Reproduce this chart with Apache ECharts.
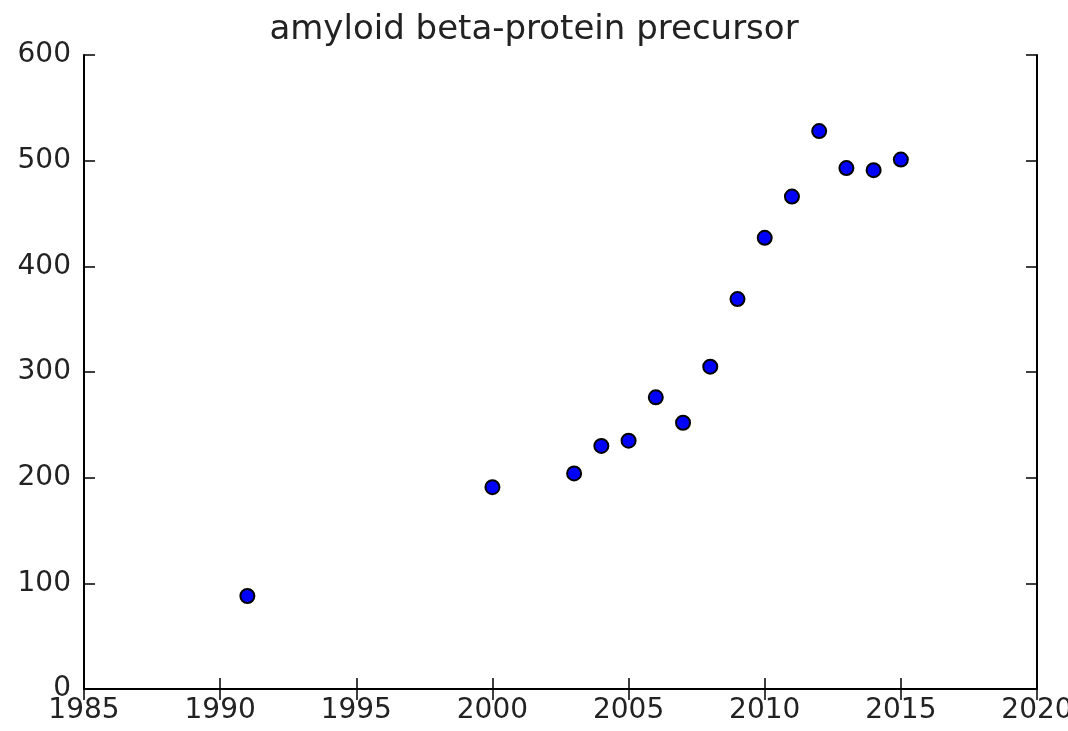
<!DOCTYPE html>
<html>
<head>
<meta charset="utf-8">
<script src="https://cdn.jsdelivr.net/npm/echarts@6/dist/echarts.min.js"></script>
<style>
  html, body { margin: 0; padding: 0; background: #fff; }
  #chart { width: 1068px; height: 731px; }
</style>
</head>
<body>
<div id="chart"></div>
<script>
// data
const years = [1991, 2000, 2003, 2004, 2005, 2006, 2007, 2008, 2009, 2010, 2011, 2012, 2013, 2014, 2015];
const counts = [88, 191, 204, 230, 235, 276, 252, 305, 369, 427, 466, 528, 493, 491, 501];
const titleText = "amyloid beta-protein precursor";

const font = "DejaVu Sans";
const points = years.map((y, i) => [y, counts[i]]);

// shared axis look: black frame, ticks pointing inward
function axisStyle(show, margin) {
  return {
    axisLine: { show: true, lineStyle: { color: "#000", width: 2 } },
    axisTick: { show: true, inside: true, length: 11, lineStyle: { color: "#000", width: 1.5 } },
    axisLabel: {
      show: show,
      color: "#222",
      fontFamily: font,
      fontSize: 28,
      margin: margin,
      formatter: (v) => String(v)
    },
    splitLine: { show: false }
  };
}

let option = {
  animation: false,
  title: {
    text: titleText,
    left: "center",
    top: 8,
    textStyle: { fontFamily: font, fontSize: 34, fontWeight: "normal", color: "#222" }
  },
  grid: { left: 84, right: 31, top: 55, bottom: 42, outerBoundsMode: "none", containLabel: false },
  xAxis: [
    Object.assign({ type: "value", min: 1985, max: 2020, interval: 5, position: "bottom" }, axisStyle(true, 8)),
    Object.assign({ type: "value", min: 1985, max: 2020, interval: 5, position: "top" }, axisStyle(false, 8))
  ],
  yAxis: [
    Object.assign({ type: "value", min: 0, max: 600, interval: 100, position: "left" }, axisStyle(true, 13)),
    Object.assign({ type: "value", min: 0, max: 600, interval: 100, position: "right" }, axisStyle(false, 13))
  ],
  series: [
    {
      type: "scatter",
      data: points,
      symbolSize: 14,
      itemStyle: { color: "#0000ff", borderColor: "#000", borderWidth: 2, opacity: 1 }
    }
  ]
};

let myChart = echarts.init(document.getElementById("chart"));
myChart.setOption(option);
</script>
</body>
</html>
